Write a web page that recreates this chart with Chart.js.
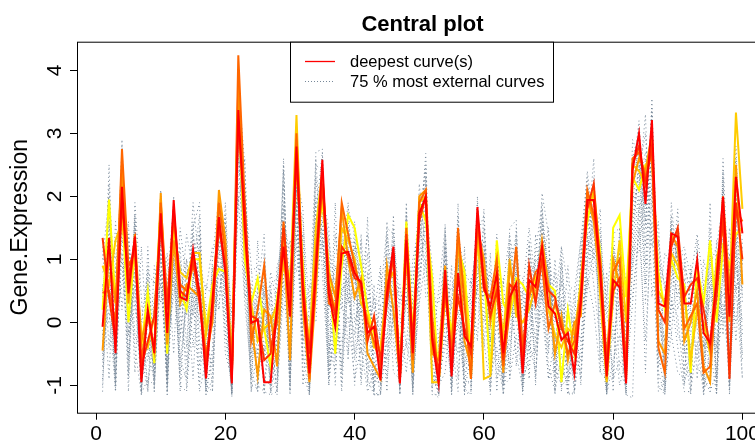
<!DOCTYPE html>
<html>
<head>
<meta charset="utf-8">
<script src="https://cdn.jsdelivr.net/npm/chart.js@4.4.1/dist/chart.umd.min.js"></script>
<style>
  html, body { margin: 0; padding: 0; background: #fff; overflow: hidden; }
  #wrap { position: absolute; left: 0; top: 0; width: 790px; height: 444px; }
</style>
</head>
<body>
<div id="wrap"><canvas id="myChart" width="790" height="444"></canvas></div>
<script>
// time points 1..100
const timePoints = Array.from({length: 100}, (_, i) => i + 1);
const xTicks = [0, 20, 40, 60, 80, 100];
const yTicks = [-1, 0, 1, 2, 3, 4];

// central (deepest 25%) curves, deepest first
const deepest = [-0.07,1.34,-0.49,2.15,0.46,1.36,-0.95,0.2,-0.49,1.73,
  -0.17,1.94,0.4,0.35,1.15,0.46,-0.89,0.35,1.67,0.78,
  -0.97,3.37,1.51,-0.01,0.04,-0.95,-0.95,0.25,1.2,0.09,
  2.79,0.46,-0.81,0.78,2.58,0.46,-0.07,1.09,1.12,0.78,
  0.62,-0.17,-0.07,-0.92,0.46,1.2,-0.97,1.3,-0.49,1.73,
  1.99,-0.28,-0.97,0.83,-0.86,0.78,-0.22,-0.38,1.83,0.56,
  0.25,0.78,-0.49,0.4,0.62,-0.81,0.67,0.56,1.2,0.25,
  0.14,-0.28,-0.17,-0.81,0.35,1.94,1.94,0.78,-0.86,0.67,
  0.56,-0.97,2.42,3.0,1.88,3.21,0.3,0.25,1.41,1.36,
  0.3,0.3,0.99,-0.17,-0.33,0.67,1.99,0.09,2.31,1.41];
const central2 = [1.34,0.4,-0.3,1.9,0.7,1.3,-0.7,-0.3,0.1,1.6,
  0.2,1.8,0.5,0.4,1.0,0.3,-0.6,0.2,1.5,0.9,
  -0.9,3.2,1.8,0.1,0.05,-0.6,-0.5,0.2,1.5,0.4,
  2.6,0.6,-0.5,0.9,2.2,0.6,0.1,1.2,1.05,0.7,
  0.65,-0.3,0.1,-0.6,0.3,1.1,-0.9,1.4,-0.3,1.6,
  2.0,-0.2,-0.8,0.6,-0.6,0.4,-0.1,-0.5,1.7,0.7,
  0.1,0.5,-0.6,0.6,0.5,-0.6,0.9,0.3,1.0,0.5,
  0.4,-0.1,-0.3,-0.5,0.3,1.8,2.2,0.9,-0.7,0.5,
  0.7,-0.8,2.5,2.8,2.2,2.8,0.2,0.0,1.2,1.5,
  0.4,0.6,0.7,0.2,-0.4,0.4,1.7,-0.9,1.9,1.0];
const central3 = [0.47,0.5,0.0,2.75,0.9,1.1,-0.6,0.1,-0.4,1.9,
  0.3,1.7,0.6,0.5,0.9,0.5,-0.7,0.1,1.9,1.1,
  -0.9,4.24,1.9,-0.3,0.2,0.9,-0.4,0.0,1.6,0.2,
  3.0,0.7,-0.9,1.1,2.4,0.3,0.2,1.9,1.4,0.9,
  0.5,0.0,-0.3,-0.7,0.6,1.0,-0.95,1.5,-0.6,1.9,
  2.1,0.1,-0.95,0.5,-0.5,1.5,0.3,-0.9,1.6,0.5,
  0.4,1.0,-0.7,0.2,1.2,-0.4,0.4,0.8,0.9,-0.1,
  0.3,0.0,-0.5,-0.3,0.5,2.1,1.7,1.0,-0.6,0.8,
  1.0,-0.7,2.6,2.7,2.3,2.7,-0.4,-0.8,1.3,1.4,
  -0.1,0.1,0.3,-0.8,-0.7,0.6,2.0,0.5,1.8,1.6];
const central4 = [-0.45,1.1,0.3,2.5,0.3,1.4,-0.3,0.15,-0.45,2.05,
  -0.35,1.3,0.3,0.6,0.5,0.4,-0.5,0.0,2.1,1.3,
  -0.8,3.8,1.4,0.0,-0.85,0.2,0.1,-0.7,1.3,-0.6,
  2.9,0.2,-0.95,0.5,2.3,0.8,0.4,1.8,1.0,0.4,
  0.7,-0.5,-0.7,-0.9,0.9,0.2,-0.85,1.1,-0.8,2.0,
  2.1,-0.5,-0.6,0.9,-0.7,1.4,-0.3,-0.7,1.5,1.0,
  0.0,0.7,-0.8,0.9,0.3,-0.5,0.6,0.4,1.3,0.6,
  -0.5,0.1,-0.6,0.0,0.1,2.0,1.6,0.6,-0.9,1.0,
  0.6,-0.9,2.2,2.6,2.4,3.0,-0.3,-0.5,1.4,1.2,
  -0.3,0.0,0.5,-0.7,-0.95,0.8,1.6,0.0,2.5,0.6];
const central5 = [0.9,0.6,1.3,1.6,0.8,1.0,-0.2,-0.4,0.1,1.8,
  0.1,1.5,0.8,0.7,1.1,1.1,-0.2,0.5,1.6,0.9,
  -0.6,3.5,1.2,0.3,-0.3,-0.1,0.0,0.3,0.9,0.5,
  3.29,0.5,-0.3,1.5,2.4,0.6,0.2,1.5,1.3,1.0,
  0.3,0.1,-0.4,-0.4,0.6,0.8,-0.7,1.2,-0.5,1.9,
  2.0,-0.95,-0.95,0.4,-0.3,1.2,0.6,-0.9,1.7,-0.9,
  -0.85,0.6,-0.2,1.0,0.1,0.0,0.2,0.6,1.0,0.2,
  -0.2,-0.4,-0.1,-0.2,0.6,1.8,2.05,0.4,-0.95,0.4,
  1.3,0.0,2.5,2.4,2.2,2.9,0.5,0.3,1.1,0.9,
  0.5,-0.6,0.2,0.0,-0.5,1.0,1.5,0.4,3.33,1.8];
const central6 = [0.2,1.95,0.3,1.8,0.0,1.2,-0.4,0.5,-0.65,1.95,
  -0.5,1.6,0.5,0.2,1.0,1.0,-0.1,0.6,0.85,0.8,
  -0.8,3.6,1.0,0.3,0.7,-0.1,-0.7,0.4,1.0,0.7,
  2.5,0.9,-0.6,1.2,1.9,0.9,-0.5,0.9,1.7,1.5,
  0.9,0.2,-0.2,-0.5,0.4,1.1,-0.8,1.6,-0.2,1.9,
  1.6,0.7,-0.97,0.6,-0.2,1.2,0.8,-0.45,1.3,0.8,
  -0.8,1.3,0.3,0.1,0.7,0.6,0.4,0.7,0.9,0.6,
  0.5,-0.95,0.2,-0.5,0.7,1.6,2.1,1.1,-0.9,1.5,
  1.7,0.4,2.3,2.1,2.5,2.6,0.8,0.2,1.0,0.7,
  0.6,-0.8,0.9,0.3,1.3,0.0,1.2,0.9,1.4,1.5];

// outer 75% curves
const outer1 = [-0.5,2.5,-0.9,2.9,-0.8,1.7,-1.1,0.9,-0.8,2.05,
  -1.1,1.78,-0.6,0.3,1.5,1.9,-1.1,0.4,1.3,1.5,
  -1.15,3.8,2.5,-0.9,0.5,1.4,-1.1,-0.4,2.6,-1.0,
  2.3,1.8,-1.1,2.7,2.75,-0.7,1.9,-1.0,1.8,1.4,
  -0.5,1.67,-1.15,-1.1,1.6,-0.3,-1.0,1.9,-0.9,1.2,
  2.68,-0.6,-1.15,1.56,-1.1,1.89,-1.15,0.5,1.4,1.7,
  -0.8,1.1,-1.0,1.5,1.62,-1.1,1.3,0.0,2.05,1.4,
  -1.1,1.2,-1.15,0.2,1.3,2.3,1.0,1.8,-1.15,1.5,
  0.0,-1.15,1.8,3.1,1.2,3.55,-0.5,-1.1,1.9,0.8,
  1.0,-1.1,1.15,-1.1,1.9,-1.1,2.3,-1.0,2.8,0.3];
const outer2 = [-0.6,0.8,-1.05,1.5,-1.1,1.5,-1.13,-0.9,-1.0,1.3,
  -1.15,1.1,-1.0,-1.1,0.3,1.2,-1.15,-0.9,1.7,0.2,
  -1.18,2.9,0.6,-1.0,-1.05,0.3,-1.15,-1.1,1.6,-1.1,
  1.9,-0.5,-1.15,1.4,1.6,-1.0,0.5,-1.1,0.8,-0.6,
  0.2,-0.9,-1.15,-1.15,-0.2,0.5,-1.1,0.6,-1.1,0.7,
  1.6,-1.1,-1.2,0.3,-1.15,0.6,-1.15,-1.1,1.2,-0.3,
  -1.1,0.2,-1.15,-0.4,0.4,-1.1,-0.3,-0.8,0.6,-0.7,
  -1.1,-0.5,-1.15,-1.1,-0.4,1.4,0.6,-0.3,-1.15,-0.6,
  -0.2,-1.15,-1.2,2.0,-0.8,2.2,-1.0,-1.15,0.4,-0.4,
  -1.1,-1.1,-0.3,-1.15,-0.4,-1.15,0.9,-1.1,1.1,-0.5];
const outer3 = [0.6,-0.9,1.6,0.2,1.4,-0.2,-0.5,-1.1,0.4,1.0,
  -0.2,0.4,1.2,-0.4,1.6,-0.7,0.3,-1.1,1.4,-0.5,
  -0.9,2.4,2.2,0.2,-0.9,1.1,-0.3,-1.1,0.5,0.9,
  1.2,0.0,0.6,0.3,2.2,1.2,-1.0,1.4,-0.5,1.1,
  -0.9,0.8,-0.4,0.3,-1.1,1.3,0.1,-0.8,0.5,2.0,
  0.4,0.6,-0.9,-0.4,0.9,-0.9,0.9,-0.6,0.7,1.3,
  -1.0,0.9,-0.3,1.2,-0.7,0.5,-0.9,1.4,0.3,0.9,
  -0.8,0.7,-0.6,0.5,-1.0,1.0,2.3,-0.6,0.4,-0.9,
  1.2,-0.5,1.5,2.4,3.0,1.2,1.6,-0.7,0.7,1.8,
  -0.5,0.8,-0.9,0.6,-1.1,1.3,-0.2,1.5,0.5,1.2];
const outer4 = [1.0,2.0,-0.3,2.3,1.0,0.4,-0.9,0.6,-1.1,1.7,
  0.6,1.9,-0.3,1.0,0.1,0.8,-1.05,1.0,2.0,-0.2,
  -1.1,3.3,0.9,-0.6,0.6,-1.15,0.5,-0.8,2.2,-0.3,
  2.6,1.2,-1.0,2.0,1.4,0.2,0.9,0.2,1.6,0.3,
  1.3,-1.0,0.6,-1.0,1.1,-0.8,-0.9,1.7,0.2,1.5,
  2.4,-1.05,-0.5,1.3,-0.9,1.1,-0.7,0.1,1.9,0.0,
  0.5,-0.6,-1.1,0.8,1.4,-0.9,1.0,0.3,1.7,-0.4,
  0.8,-1.1,0.3,-1.1,0.9,2.2,1.3,1.3,-1.1,1.1,
  -0.8,-1.0,2.9,2.6,1.6,3.3,0.6,-0.9,1.6,0.2,
  0.7,-0.9,0.8,-0.9,0.6,0.2,2.1,-0.7,2.0,0.9];
const outer5 = [-0.3,0.2,-1.1,2.4,0.6,1.0,-1.0,-0.3,-0.7,1.5,
  -0.9,1.3,0.9,-1.05,0.8,0.0,-0.7,0.8,1.1,1.2,
  -1.0,3.6,1.6,-1.1,-0.4,-0.9,-1.0,0.6,1.8,-1.05,
  2.9,-0.8,-1.15,0.9,2.5,-0.3,-0.8,0.6,0.4,-0.2,
  0.9,-0.7,-0.9,-0.6,0.2,1.5,-1.15,1.0,-1.0,1.4,
  2.2,-0.9,-1.1,0.9,-1.0,0.2,-0.9,-1.0,1.6,0.9,
  -0.5,0.6,-0.9,-0.2,0.9,-1.0,0.5,-0.3,1.5,0.3,
  -0.6,-0.8,-0.9,-0.7,0.6,1.7,1.8,0.3,-1.0,0.3,
  0.3,-1.1,2.1,2.9,0.9,2.9,-0.2,0.4,0.9,1.1,
  -0.8,0.3,0.4,-1.05,-0.9,0.5,1.3,-0.4,1.7,0.4];
const outer6 = [0.3,1.6,0.5,1.0,-0.5,1.7,-0.6,-0.6,0.2,0.6,
  -0.6,0.9,-0.8,0.4,1.3,-0.3,-0.9,0.2,0.5,0.9,
  -1.1,2.8,0.4,0.6,-1.1,0.5,-0.8,0.9,1.2,0.2,
  1.6,0.5,-0.4,2.3,1.2,0.9,-0.4,-0.5,1.2,0.8,
  -0.2,0.3,-0.6,-1.15,0.7,0.9,-0.4,0.4,-0.6,1.1,
  1.3,0.2,-1.0,-0.8,0.4,0.9,0.2,-0.3,0.9,0.4,
  0.8,-0.9,-0.5,0.6,0.0,-0.5,0.8,0.9,0.4,1.0,
  -0.3,0.3,-0.9,0.1,-0.3,0.9,1.9,0.8,-0.6,0.9,
  1.1,-0.6,0.8,1.8,2.1,2.5,0.0,-0.3,0.6,1.3,
  0.2,-0.4,0.0,0.4,0.2,-0.5,0.8,0.3,0.9,0.0];
const outer7 = [-0.9,1.2,-0.6,2.6,0.2,0.8,-1.1,0.3,-0.9,2.0,
  -1.0,1.6,0.1,-0.6,1.4,0.6,-1.15,-0.4,1.8,0.5,
  -1.15,3.7,1.3,-0.5,0.3,-1.1,-1.15,-0.2,2.4,-0.8,
  2.2,0.9,-0.9,1.7,2.7,0.0,-0.3,1.0,1.9,0.0,
  0.4,-0.4,-1.0,-0.8,1.3,0.0,-1.05,1.3,-0.4,1.7,
  1.8,-0.8,-1.15,1.1,-1.05,1.6,-0.5,-0.8,1.3,1.2,
  -0.3,0.4,-1.0,1.1,0.6,-0.8,-0.1,1.1,1.9,0.0,
  0.5,-1.0,-0.4,-0.9,1.1,2.4,1.5,0.0,-1.1,0.7,
  0.9,-0.9,2.3,3.2,1.5,3.4,0.4,-1.0,1.3,0.6,
  0.0,-0.9,1.0,-0.6,1.1,-0.9,1.7,-0.9,2.2,0.7];
const outer8 = [0.1,0.0,0.9,1.3,1.2,0.2,-0.2,-1.0,-0.2,1.2,
  0.9,0.6,0.4,1.0,-0.4,1.4,-0.3,-0.7,1.0,1.7,
  -0.5,2.2,2.0,0.9,-0.6,-0.5,0.8,0.3,0.2,0.6,
  2.0,-0.3,0.1,0.0,1.8,0.6,0.7,-0.8,0.6,1.2,
  1.0,-0.2,0.4,-0.3,-0.6,0.7,-0.5,0.3,0.3,0.6,
  1.9,0.9,-0.3,0.2,0.0,-0.5,0.5,0.3,0.5,1.5,
  0.1,1.2,0.0,-0.7,1.1,0.2,0.2,-0.5,1.1,1.2,
  0.2,0.6,0.5,-0.3,-0.6,0.5,1.2,1.5,0.1,-0.3,
  0.4,0.3,0.4,1.4,2.6,1.8,1.0,0.6,-0.2,1.0,
  1.1,0.2,-0.6,1.0,0.5,0.7,0.4,0.7,0.0,1.0];
const outer9 = [1.2,-0.4,0.8,2.1,-0.9,1.9,0.4,-1.1,0.9,0.3,
  1.1,-0.5,1.5,0.6,-0.9,1.0,-0.8,0.9,0.2,1.6,
  -0.8,3.1,1.2,-1.1,1.3,-0.6,0.6,-0.5,1.9,0.6,
  1.8,-1.0,0.3,2.6,0.8,-0.9,1.4,0.4,-0.6,1.6,
  0.1,1.1,-1.1,0.8,-0.4,1.7,-0.7,0.9,-1.15,2.2,
  1.1,-0.4,0.5,1.5,-0.3,-1.1,1.2,-1.1,2.0,-0.4,
  1.1,-1.1,0.7,-0.9,1.5,-0.3,1.2,-0.9,0.9,1.5,
  -0.9,1.0,-0.2,-1.1,0.4,1.3,2.6,-0.8,0.8,-1.1,
  1.5,0.6,0.9,2.2,3.3,0.4,1.3,-1.1,0.2,1.6,
  -1.0,0.9,-0.1,-0.8,1.2,-1.0,2.6,0.1,1.4,-0.6];
const outer10 = [-1.1,1.8,-1.0,2.2,-0.2,0.6,-1.15,0.7,-1.1,1.1,
  -1.15,2.0,-0.9,-0.8,0.7,1.5,-1.0,-1.1,1.5,0.7,
  -1.1,2.6,1.9,-0.8,-1.1,0.8,-1.1,-0.9,1.4,-1.15,
  2.4,0.2,-1.15,1.1,2.6,-0.5,0.3,-0.7,1.4,0.9,
  -1.0,0.4,-1.15,-1.15,0.8,0.8,-1.15,1.6,-1.15,0.9,
  2.3,-1.15,-1.15,1.2,-1.15,1.3,-1.05,-1.15,0.8,1.0,
  -1.15,0.9,-1.15,0.3,1.3,-1.15,0.9,-1.0,1.6,0.8,
  -1.15,0.4,-1.1,-1.15,0.8,1.9,0.8,0.9,-1.15,1.2,
  0.4,-1.15,1.1,2.7,0.6,3.0,-0.8,-1.15,1.1,-0.2,
  -0.4,-1.15,1.3,-1.15,0.8,-1.15,2.4,-1.15,1.8,-0.2];
const outer11 = [0.8,0.9,0.0,0.6,1.6,-0.8,1.2,-0.5,-0.3,2.1,
  -0.7,1.0,0.2,1.4,0.8,-1.0,0.6,0.4,0.2,1.9,
  -0.3,1.9,2.6,-0.2,0.1,0.2,0.3,-0.6,0.8,1.3,
  0.8,1.4,-0.7,0.7,2.0,1.5,-0.6,1.2,0.9,-0.5,
  1.4,-0.3,0.1,0.9,-0.9,0.2,0.6,-0.4,1.0,1.5,
  0.9,0.1,-0.4,0.6,0.5,1.0,-0.3,0.7,-0.3,1.8,
  -0.4,1.4,-0.6,0.2,0.8,0.7,-0.5,1.0,0.8,-0.5,
  1.0,-0.3,0.9,-0.4,0.2,0.6,1.7,1.2,-0.4,0.2,
  1.4,-0.2,1.2,1.1,2.2,2.1,0.2,1.1,0.9,0.4,
  0.9,0.5,0.6,-0.4,-0.2,1.1,0.0,1.1,-0.3,1.3];
const outer12 = [-0.2,2.2,0.2,2.8,0.3,1.6,-0.9,0.0,-0.3,1.9,
  -0.8,1.7,-0.2,0.8,0.9,1.7,-1.0,0.6,1.6,1.0,
  -1.05,3.4,1.7,-0.3,-0.5,0.6,-0.9,0.1,2.5,-0.5,
  2.7,0.9,-1.05,2.5,2.4,0.4,0.6,1.3,1.1,0.6,
  0.8,0.6,-0.8,-0.9,1.4,0.6,-0.9,1.8,-0.7,1.6,
  2.5,-0.7,-1.0,1.4,-0.8,1.7,-0.8,-0.6,1.8,0.8,
  -0.6,1.0,-0.8,1.3,1.0,-0.9,1.2,0.5,1.8,0.7,
  -0.4,0.9,-0.8,-0.4,1.0,2.1,1.7,1.4,-0.9,1.2,
  0.6,-0.9,2.6,3.0,1.9,3.1,0.1,-0.6,1.7,0.9,
  0.5,-0.6,1.1,-0.4,1.5,-0.4,2.0,-0.5,2.6,0.5];
const outer13 = [-0.7,0.5,-0.8,1.1,-0.6,0.9,-0.8,-0.5,-0.9,0.8,
  -0.9,0.7,-0.6,-0.9,0.5,0.4,-1.1,-0.6,0.9,-0.1,
  -1.0,2.0,0.3,-0.8,-0.7,-0.4,-0.9,-0.9,0.7,-0.9,
  1.4,-0.2,-1.0,0.6,1.3,-0.8,-0.2,-0.3,0.1,-0.9,
  -0.4,-1.1,-0.8,-1.0,-0.5,0.1,-0.9,-0.3,-0.9,0.3,
  1.0,-0.8,-1.0,-0.2,-0.9,0.0,-1.0,-0.9,0.6,-0.8,
  -0.9,-0.4,-1.0,-0.9,-0.2,-0.9,-0.6,-0.4,0.2,-0.9,
  -0.7,-1.0,-0.9,-0.5,-0.8,0.7,0.2,-0.8,-0.9,-0.9,
  -0.6,-0.9,0.3,1.5,-0.3,1.6,-1.1,-0.9,-0.2,-0.8,
  -0.9,-0.7,-0.7,-0.9,-1.1,-0.8,0.3,-0.8,0.6,-0.9];
const outer14 = [0.5,1.4,1.0,1.9,1.3,0.6,0.0,0.8,0.6,1.4,
  0.4,1.3,1.0,0.1,1.9,0.9,0.5,1.2,1.2,1.4,
  0.1,3.0,1.0,0.8,0.9,0.4,0.6,0.7,1.6,1.1,
  2.1,1.6,0.2,1.3,2.1,1.3,0.5,1.6,0.3,1.3,
  0.6,1.4,0.2,0.4,1.5,1.4,0.3,0.8,0.6,1.8,
  1.7,0.4,0.3,1.0,0.2,1.4,0.8,0.6,1.3,1.2,
  0.3,0.8,0.6,1.4,0.3,0.5,1.5,0.6,1.3,0.5,
  0.3,1.2,0.6,0.5,1.3,1.5,2.0,1.1,0.4,1.4,
  1.5,0.5,1.9,2.2,2.7,2.3,1.3,0.5,1.5,1.0,
  1.2,0.7,1.4,0.6,0.9,1.2,1.9,0.8,1.6,1.3];
const outer15 = [-1.0,1.0,-1.1,1.8,0.9,-0.4,-1.15,1.2,-1.0,0.8,
  -1.0,1.4,-1.1,0.6,0.4,-1.1,-0.6,0.0,1.9,0.3,
  -1.15,3.1,0.8,0.1,-1.0,-1.1,0.0,-1.15,1.0,0.0,
  2.5,-0.6,-0.8,1.9,2.0,-1.0,0.1,0.5,0.7,-1.0,
  0.6,-0.6,-1.1,0.0,0.0,1.2,-1.0,0.9,-1.05,0.4,
  1.9,-0.3,-1.15,0.0,-0.5,1.0,-1.1,-0.5,1.0,0.3,
  -0.9,0.0,-0.8,0.5,-0.5,-1.05,0.3,0.2,0.5,-0.9,
  -0.2,-0.7,-1.0,-0.3,-0.9,1.3,1.1,0.4,-1.1,0.0,
  -1.0,-0.6,1.6,2.5,0.3,2.6,-0.7,-0.5,0.3,0.1,
  -1.0,-0.4,0.2,-1.0,-0.7,0.6,1.0,-1.05,1.4,-0.9];
const outer16 = [0.4,1.7,-0.5,2.0,-0.2,1.2,-0.4,0.4,-0.6,1.6,
  -0.4,1.5,0.2,0.5,1.2,0.2,-0.5,0.5,1.3,1.1,
  -0.6,3.5,1.5,0.4,0.2,-0.4,-0.5,0.4,1.4,0.3,
  2.2,0.4,-0.6,1.3,2.2,0.5,0.2,0.8,1.5,1.1,
  0.2,0.1,-0.5,-0.2,0.9,1.0,-0.6,1.1,-0.1,1.3,
  2.0,-0.1,-0.6,0.7,-0.4,1.1,-0.4,-0.3,1.5,0.6,
  -0.3,0.7,-0.5,0.7,0.8,-0.6,0.6,0.7,1.4,0.8,
  0.0,0.2,-0.3,-0.2,0.5,2.0,1.6,0.7,-0.7,1.0,
  1.1,-0.5,2.1,2.8,1.8,3.2,0.3,-0.3,1.5,1.0,
  0.3,-0.2,0.7,-0.2,0.4,0.2,1.8,-0.2,2.1,0.7];

const centralCurves = [deepest, central2, central3, central4, central5, central6];
const centralColors = ['#FF0000', '#FF3300', '#FF6600', '#FF9900', '#FFCC00', '#FFFF00'];
const outerCurves = [outer1, outer2, outer3, outer4, outer5, outer6, outer7, outer8,
                     outer9, outer10, outer11, outer12, outer13, outer14, outer15, outer16];
const outerColor = '#778899';

const FONT = '"Liberation Sans", Arial, Helvetica, sans-serif';
Chart.defaults.font.family = FONT;
Chart.defaults.color = '#000';

function toPoints(vals) {
    return vals.map((v, i) => ({x: timePoints[i], y: v}));
}

const datasets = [];
centralCurves.forEach((c, k) => {
    datasets.push({
        label: k === 0 ? 'deepest curve(s)' : 'central ' + (k + 1),
        data: toPoints(c),
        borderColor: centralColors[k],
        borderWidth: 2,
        pointRadius: 0,
        tension: 0,
        fill: false
    });
});
outerCurves.forEach((c, k) => {
    datasets.push({
        label: 'external ' + (k + 1),
        data: toPoints(c),
        borderColor: outerColor,
        borderWidth: 1,
        borderDash: [1, 3],
        pointRadius: 0,
        tension: 0,
        fill: false
    });
});

// box, title and legend like the R plot
const decor = {
    id: 'decor',
    afterDraw(chart) {
        const {ctx, chartArea: a} = chart;
        ctx.save();
        ctx.strokeStyle = '#000';
        ctx.lineWidth = 1;
        ctx.strokeRect(a.left + 0.5, a.top + 0.5, a.right - a.left, a.bottom - a.top);

        ctx.fillStyle = '#000';
        ctx.font = 'bold 22px ' + FONT;
        ctx.textAlign = 'center';
        ctx.textBaseline = 'alphabetic';
        ctx.fillText('Central plot', (a.left + a.right) / 2, 31);

        // legend
        const lx = 290.5, ly = a.top + 0.5, lw = 263, lh = 60;
        ctx.fillStyle = '#fff';
        ctx.fillRect(lx, ly, lw, lh);
        ctx.strokeStyle = '#000';
        ctx.strokeRect(lx, ly, lw, lh);

        ctx.lineWidth = 1.3;
        ctx.strokeStyle = centralColors[0];
        ctx.beginPath(); ctx.moveTo(305, 61.5); ctx.lineTo(335, 61.5); ctx.stroke();
        ctx.lineWidth = 1;
        ctx.strokeStyle = outerColor;
        ctx.setLineDash([1, 2]);
        ctx.beginPath(); ctx.moveTo(305, 81.5); ctx.lineTo(335, 81.5); ctx.stroke();
        ctx.setLineDash([]);

        ctx.fillStyle = '#000';
        ctx.font = '16.5px ' + FONT;
        ctx.textAlign = 'left';
        ctx.textBaseline = 'middle';
        ctx.fillText('deepest curve(s)', 350, 62);
        ctx.fillText('75 % most external curves', 350, 82);
        ctx.restore();
    }
};

const chart = new Chart(document.getElementById('myChart'), {
    type: 'line',
    data: {datasets: datasets},
    options: {
        responsive: false,
        animation: false,
        layout: {padding: {top: 41.7, right: 22, left: 0, bottom: 0}},
        plugins: {legend: {display: false}, tooltip: {enabled: false}, title: {display: false}},
        scales: {
            x: {
                type: 'linear',
                min: -2.96,
                max: 103.96,
                afterFit: (s) => { s.height = 31.3; },
                afterBuildTicks: (s) => { s.ticks = xTicks.map(v => ({value: v})); },
                grid: {display: true, drawOnChartArea: false, drawTicks: true, tickLength: 7, color: '#000'},
                border: {display: false},
                ticks: {font: {size: 21}, padding: 2, color: '#000', maxRotation: 0, autoSkip: false}
            },
            y: {
                type: 'linear',
                min: -1.435,
                max: 4.454,
                afterFit: (s) => { s.width = 77; },
                afterBuildTicks: (s) => { s.ticks = yTicks.map(v => ({value: v})); },
                grid: {display: true, drawOnChartArea: false, drawTicks: true, tickLength: 7, color: '#000'},
                border: {display: false},
                ticks: {font: {size: 21}, padding: 5, color: '#000', minRotation: 90, maxRotation: 90, crossAlign: 'center', autoSkip: false},
                title: {display: true, text: 'Gene.Expression', font: {size: 23}, color: '#000', padding: {top: 7, bottom: 0}}
            }
        }
    },
    plugins: [decor]
});
</script>
</body>
</html>
